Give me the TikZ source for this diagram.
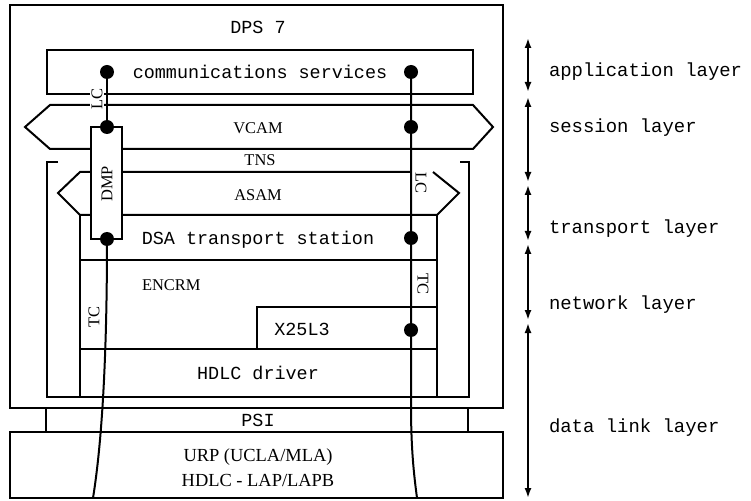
\documentclass[tikz,border=0pt]{standalone}
\usepackage{fontspec}
\setmainfont{Liberation Serif}
\newfontfamily\monofam{Liberation Mono}
\usetikzlibrary{arrows.meta}
\begin{document}
\begin{tikzpicture}[x=1bp,y=-1bp, line width=2bp,
  mono/.style={font=\monofam\fontsize{18.5}{20}\selectfont, inner sep=1bp},
  serif/.style={font=\fontsize{16.5}{18}\selectfont, inner sep=1bp},
  big/.style={font=\fontsize{18.5}{20}\selectfont, inner sep=1bp},
  lay/.style={font=\monofam\fontsize{19}{21}\selectfont, anchor=west, inner sep=0pt},
  dot/.style={circle, fill=black, inner sep=0pt, minimum size=14bp},
  layarrow/.style={{Latex[length=10bp,width=7bp]}-{Latex[length=10bp,width=7bp]}, line width=1.8bp}]
\useasboundingbox (0,0) rectangle (751,501);

% outer DPS 7 box
\draw (10,5) rectangle (503,408);
\node[mono] (dps) at (258,27) {DPS 7};
% communications services
\draw (47,50) rectangle (473,94);
\node[mono] (cs) at (260,72) {communications services};
% VCAM
\draw (50,105) -- (473,105) -- (493,127) -- (473,149) -- (50,149) -- (25,127) -- cycle;
\node[serif] (vcam) at (258,128) {VCAM};
\node[serif] (tns) at (260,160) {TNS};
% TNS bracket
\draw (58,162) -- (47,162) -- (47,397) -- (469,397) -- (469,162) -- (460,162);
% ASAM
\draw (411,172) -- (80,172) -- (58,193) -- (80,215) -- (437,215) -- (459,193) -- (433,172);
\node[serif] (asam) at (258,195) {ASAM};
% DSA transport station and below
\draw (80,215) -- (80,397);
\draw (437,215) -- (437,397);
\draw (80,260) -- (437,260);
\node[mono] (dsa) at (258,240) {DSA transport station};
\node[serif, anchor=west] (encrm) at (140,285) {ENCRM};
\draw (257,349) -- (257,307) -- (437,307);
\node[mono] (x25) at (302,329) {X25L3};
\draw (80,349) -- (437,349);
\node[mono] (hdlc) at (258,373) {HDLC driver};
% PSI
\draw (46,408) -- (46,432);
\draw (468,408) -- (468,432);
\node[mono] (psi) at (258,420) {PSI};
% URP
\draw (10,432) rectangle (503,498);
\node[big] (urp1) at (258,457) {URP (UCLA/MLA)};
\node[big] (urp2) at (258,480) {HDLC - LAP/LAPB};

% DMP box
\draw[fill=white] (91,127) rectangle (122,239);
\node[serif, rotate=90] (dmp) at (107,184) {DMP};

% connection lines
\coordinate (l1) at (107,72);
\coordinate (l2) at (107,127);
\coordinate (l3) at (107,239);
\coordinate (lend) at (93,498);
\coordinate (r1) at (411,72);
\coordinate (r2) at (411,127);
\coordinate (r3) at (411,238);
\coordinate (r4) at (411,330);
\coordinate (rbend) at (411,405);
\coordinate (rend) at (417,498);
\draw (l1) -- (l2);
\draw (l3) .. controls (107,330) and (104,430) .. (lend);
\draw (r1) -- (r4) -- (rbend) .. controls (411,450) and (414,475) .. (rend);
\foreach \p in {l1,l2,l3,r1,r2,r3,r4} \node[dot] at (\p) {};

% small labels
\node[serif, rotate=90, fill=white] (lcl) at (97,99) {LC};
\node[serif, rotate=-90] (lcr) at (421,183) {LC};
\node[serif, rotate=-90] (tcr) at (423,284) {TC};
\node[serif, rotate=90] (tcl) at (94,317) {TC};

% layer arrows
\coordinate (a0) at (528,38);  \coordinate (a1) at (528,92);
\coordinate (b0) at (528,97);  \coordinate (b1) at (528,182);
\coordinate (c0) at (528,185); \coordinate (c1) at (528,241);
\coordinate (d0) at (528,244); \coordinate (d1) at (528,320);
\coordinate (e0) at (528,323); \coordinate (e1) at (528,498);
\draw[layarrow] (a0) -- (a1);
\draw[layarrow] (b0) -- (b1);
\draw[layarrow] (c0) -- (c1);
\draw[layarrow] (d0) -- (d1);
\draw[layarrow] (e0) -- (e1);
\node[lay] (la) at (548,72) {application layer};
\node[lay] (lb) at (548,128) {session layer};
\node[lay] (lc) at (548,229) {transport layer};
\node[lay] (ld) at (548,305) {network layer};
\node[lay] (le) at (548,428) {data link layer};
\end{tikzpicture}
\end{document}
